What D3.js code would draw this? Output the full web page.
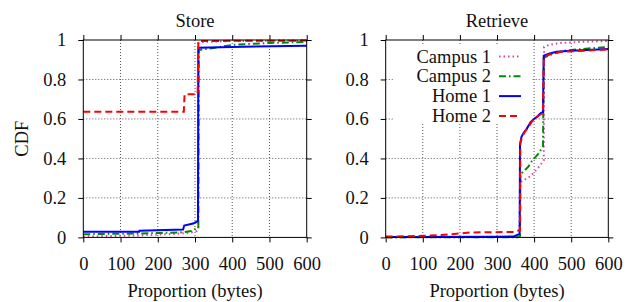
<!DOCTYPE html>
<html lang="en">
<head>
  <meta charset="UTF-8">
  <title>Store / Retrieve CDF</title>
  <script src="https://d3js.org/d3.v7.min.js"></script>
  <style>
    body { margin: 0; background: #fff; }
    svg { display: block; }
    text { font-family: 'Liberation Serif', serif; fill: #111; }
    .grid line { stroke: #555; stroke-width: 1; stroke-dasharray: 1,2; }
    .curve { fill: none; stroke-width: 2; }
  </style>
</head>
<body>
<svg id="chart" width="628" height="302"></svg>
<script>
  // x ticks and y ticks shared by both panels
  const xTicks = [0, 100, 200, 300, 400, 500, 600];
  const yTicks = [0, 0.2, 0.4, 0.6, 0.8, 1];
  const seriesNames = ["Campus 1", "Campus 2", "Home 1", "Home 2"];

  // Store panel, [bytes, cdf]
  const storeCampus1 = [[0,0.005],[100,0.008],[150,0.01],[250,0.018],[290,0.025],[305,0.033],[308,0.04],[309,0.985],[320,0.99],[400,0.995],[600,0.998]];
  const storeCampus2 = [[0,0.016],[150,0.02],[260,0.025],[290,0.032],[305,0.047],[309,0.05],[310,0.949],[350,0.96],[400,0.975],[500,0.985],[600,0.99]];
  const storeHome1 = [[0,0.029],[150,0.029],[151,0.034],[268,0.04],[271,0.06],[295,0.07],[305,0.08],[308,0.085],[309,0.961],[400,0.965],[600,0.971]];
  const storeHome2 = [[0,0.637],[270,0.637],[272,0.725],[307,0.725],[309,0.995],[600,0.997]];

  // Retrieve panel, [bytes, cdf]
  const retrCampus1 = [[0,0],[360,0.002],[363,0.28],[368,0.285],[390,0.31],[410,0.35],[426,0.39],[427,0.965],[440,0.975],[470,0.985],[520,0.99],[600,0.995]];
  const retrCampus2 = [[0,0],[358,0.001],[362,0.005],[363,0.32],[373,0.336],[385,0.36],[394,0.387],[410,0.42],[424,0.46],[426,0.91],[450,0.93],[480,0.945],[500,0.95],[600,0.965]];
  const retrHome1 = [[0,0.002],[300,0.003],[345,0.005],[358,0.015],[361,0.02],[362,0.47],[366,0.51],[372,0.53],[380,0.55],[391,0.585],[400,0.6],[410,0.615],[418,0.63],[424,0.635],[426,0.92],[440,0.93],[460,0.94],[500,0.945],[600,0.955]];
  const retrHome2 = [[0,0.004],[100,0.008],[150,0.012],[200,0.02],[230,0.025],[350,0.028],[358,0.035],[362,0.035],[363,0.48],[368,0.51],[375,0.535],[385,0.56],[395,0.59],[405,0.605],[415,0.62],[424,0.63],[426,0.915],[440,0.925],[470,0.94],[600,0.952]];

  const styles = {
    "Campus 1": { color: "#e040a8", dash: "1.5,3" },
    "Campus 2": { color: "#008a00", dash: "7,3,1.5,3" },
    "Home 1":   { color: "#0000ff", dash: null },
    "Home 2":   { color: "#ff0000", dash: "7,4" }
  };

  const svg = d3.select("#chart");
  const plotTop = 40, plotBottom = 237.4;
  const y = d3.scaleLinear().domain([0, 1]).range([plotBottom, plotTop]);

  function drawPanel(x0, x1, title, series, legend) {
    const x = d3.scaleLinear().domain([0, 600]).range([x0, x1]);
    const g = svg.append("g");

    // grid
    const grid = g.append("g").attr("class", "grid");
    grid.selectAll(".gx").data(xTicks.slice(1, -1)).enter().append("line")
      .attr("x1", d => x(d)).attr("x2", d => x(d))
      .attr("y1", plotTop).attr("y2", plotBottom);
    grid.selectAll(".gy").data(yTicks.slice(1, -1)).enter().append("line")
      .attr("x1", x0).attr("x2", x1)
      .attr("y1", d => y(d)).attr("y2", d => y(d));

    // axes (ticks outward, mirrored)
    g.append("g").attr("transform", `translate(0,${plotBottom})`)
      .call(d3.axisBottom(x).tickValues(xTicks).tickSize(5).tickPadding(14).tickFormat(d3.format("d")));
    g.append("g").attr("transform", `translate(0,${plotTop})`)
      .call(d3.axisTop(x).tickValues(xTicks).tickSize(5).tickFormat(""));
    g.append("g").attr("transform", `translate(${x0},0)`)
      .call(d3.axisLeft(y).tickValues(yTicks).tickSize(5).tickPadding(12).tickFormat(d => d3.format("~g")(d)));
    g.append("g").attr("transform", `translate(${x1},0)`)
      .call(d3.axisRight(y).tickValues(yTicks).tickSize(5).tickFormat(""));
    g.selectAll(".domain").remove();
    g.selectAll(".tick line").attr("stroke", "#000");
    g.selectAll(".tick text").attr("font-family", "Liberation Serif").attr("font-size", 18.5)
      .style("font-family", "'Liberation Serif', serif").style("font-size", "18.5px").attr("fill", "#111");

    // legend box (opaque)
    if (legend) {
      g.append("rect").attr("x", 394).attr("y", 44).attr("width", 138).attr("height", 80).attr("fill", "#fff");
    }

    // curves
    const line = d3.line().x(d => x(d[0])).y(d => y(d[1]));
    series.forEach((s, i) => {
      const st = styles[seriesNames[i]];
      g.append("path").attr("class", "curve").datum(s)
        .attr("d", line)
        .attr("stroke", st.color)
        .attr("stroke-dasharray", st.dash);
    });

    // frame
    g.append("rect").attr("x", x0).attr("y", plotTop).attr("width", x1 - x0).attr("height", plotBottom - plotTop)
      .attr("fill", "none").attr("stroke", "#000").attr("stroke-width", 1);

    // title & x label
    g.append("text").attr("x", (x0 + x1) / 2).attr("y", 27).attr("text-anchor", "middle")
      .style("font-size", "18.5px").text(title);
    g.append("text").attr("x", (x0 + x1) / 2).attr("y", 297).attr("text-anchor", "middle")
      .style("font-size", "18.5px").text("Proportion (bytes)");

    if (legend) {
      seriesNames.forEach((name, i) => {
        const st = styles[name];
        const ly = 56.5 + i * 19.8;
        g.append("text").attr("x", 491).attr("y", ly + 6).attr("text-anchor", "end")
          .style("font-size", "18.5px").text(name);
        g.append("line").attr("x1", 499).attr("x2", 521).attr("y1", ly).attr("y2", ly)
          .attr("stroke", st.color).attr("stroke-width", 2).attr("stroke-dasharray", st.dash);
      });
    }
  }

  drawPanel(83.3, 306.7, "Store", [storeCampus1, storeCampus2, storeHome1, storeHome2], false);
  drawPanel(385.7, 608.3, "Retrieve", [retrCampus1, retrCampus2, retrHome1, retrHome2], true);

  svg.append("text")
    .attr("transform", `translate(28,${(plotTop + plotBottom) / 2}) rotate(-90)`)
    .attr("text-anchor", "middle")
    .style("font-size", "18.5px")
    .text("CDF");
</script>
</body>
</html>
